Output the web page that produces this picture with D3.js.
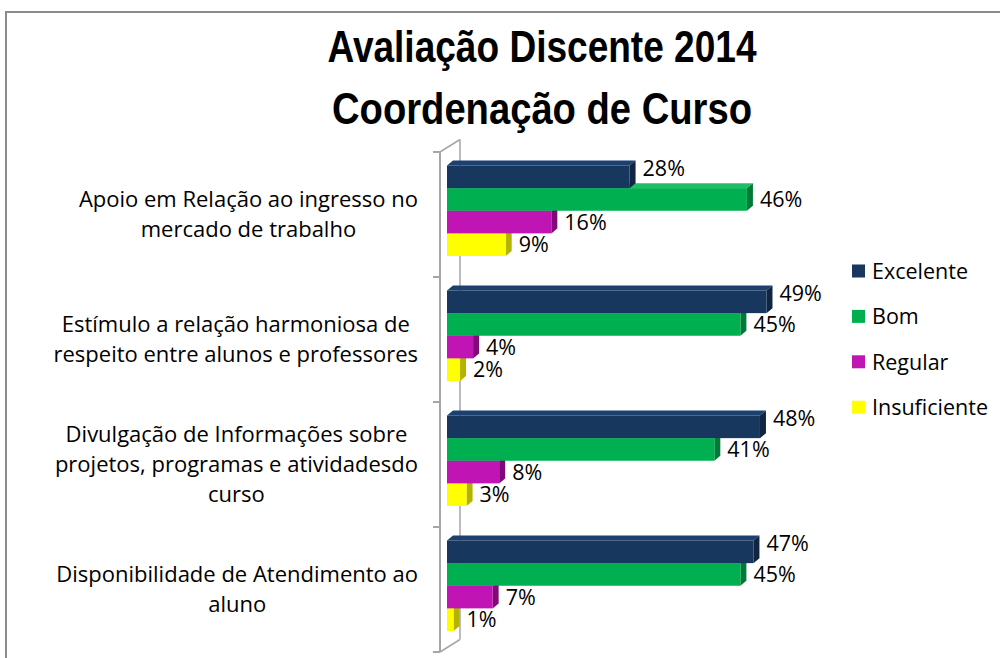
<!DOCTYPE html>
<html>
<head>
<meta charset="utf-8">
<script src="https://cdn.jsdelivr.net/npm/d3@7"></script>
<style>
  html, body { margin: 0; padding: 0; background: #fff; }
  svg { display: block; }
</style>
</head>
<body>
<svg id="chart" width="1000" height="658"></svg>
<script>
// ---- data ----
const titleLines = ["Avaliação Discente 2014", "Coordenação de Curso"];
const categories = [
  "Apoio em Relação ao ingresso no\nmercado de trabalho",
  "Estímulo a relação harmoniosa de\nrespeito entre alunos e professores",
  "Divulgação de Informações sobre\nprojetos, programas e atividadesdo\ncurso",
  "Disponibilidade de Atendimento ao\naluno"
];
const seriesNames = ["Excelente", "Bom", "Regular", "Insuficiente"];
const excelente = [0.28, 0.49, 0.48, 0.47];
const bom = [0.46, 0.45, 0.41, 0.45];
const regular = [0.16, 0.04, 0.08, 0.07];
const insuficiente = [0.09, 0.02, 0.03, 0.01];
const seriesValues = [excelente, bom, regular, insuficiente];

// ---- styles ----
const frontColors = ["#17375E", "#00B050", "#C014B4", "#FFFF00"];
const topColors   = ["#1C4170", "#1FBE66", "#CF3AC4", "#F2F200"];
const sideColors  = ["#0F2542", "#007A37", "#800A78", "#B3B300"];
const axisGray = "#A6A6A6";

const svg = d3.select("#chart");

// outer border
svg.append("path")
  .attr("d", "M6,660 L6,12 L1002,12")
  .attr("fill", "none").attr("stroke", "#8C8C8C").attr("stroke-width", 2);

// title
const titleG = svg.append("g");
const titleWidths = [429, 420];
titleLines.forEach((t, i) => {
  titleG.append("text")
    .attr("x", 542).attr("y", 62 + i * 61.5)
    .attr("text-anchor", "middle")
    .attr("font-family", "'Liberation Sans Narrow', 'Arial Narrow', 'Liberation Sans', Arial, sans-serif")
    .attr("font-weight", "bold")
    .attr("font-size", 45)
    .attr("textLength", titleWidths[i])
    .attr("lengthAdjust", "spacingAndGlyphs")
    .attr("fill", "#000")
    .text(t);
});

// scales
const x = d3.scaleLinear().domain([0, 0.6]).range([447, 447 + 0.6 * 652]);
const y = d3.scaleBand().domain(categories).range([152, 652]).padding(0);
const yInner = d3.scaleBand().domain(seriesNames).range([13.5, 104]).padding(0);

// axis walls (3D)
const dxWall = 20, dyWall = 12.5;
const axisG = svg.append("g");
const yTop = y.range()[0], yBot = y.range()[1];
const xFront = 440;
axisG.append("line")
  .attr("x1", xFront + dxWall).attr("y1", yTop - dyWall)
  .attr("x2", xFront + dxWall).attr("y2", yBot - dyWall)
  .attr("stroke", axisGray).attr("stroke-width", 1.5);
axisG.append("line")
  .attr("x1", xFront).attr("y1", yTop).attr("x2", xFront + dxWall).attr("y2", yTop - dyWall)
  .attr("stroke", axisGray).attr("stroke-width", 1.5);
axisG.append("line")
  .attr("x1", xFront).attr("y1", yBot).attr("x2", xFront + dxWall).attr("y2", yBot - dyWall)
  .attr("stroke", axisGray).attr("stroke-width", 1.5);
axisG.append("line")
  .attr("x1", xFront).attr("y1", yTop).attr("x2", xFront).attr("y2", yBot)
  .attr("stroke", axisGray).attr("stroke-width", 2);
const tickYs = categories.map(c => y(c)).concat([yBot]);
axisG.selectAll("line.tick").data(tickYs).enter().append("line")
  .attr("class", "tick")
  .attr("x1", xFront - 7).attr("x2", xFront).attr("y1", d => d).attr("y2", d => d)
  .attr("stroke", axisGray).attr("stroke-width", 2);

// category labels
const labelFont = "'Open Sans', Lato, 'Noto Sans', sans-serif";
const catG = svg.append("g");
categories.forEach(c => {
  const lines = c.split("\n");
  const cy = y(c) + y.bandwidth() / 2;
  const g = catG.append("g");
  const texts = lines.map((ln, i) => g.append("text")
    .attr("y", cy + (i - (lines.length - 1) / 2) * 30)
    .attr("dy", "0.35em")
    .attr("text-anchor", "middle")
    .attr("font-family", labelFont)
    .attr("font-size", 22)
    .attr("fill", "#000")
    .text(ln));
  const widths = texts.map(t => t.node().getComputedTextLength());
  const w = d3.max(widths);
  const cx = 418 - w / 2;
  texts.forEach(t => t.attr("x", cx));
});

// bars
const dx = 6, dy = 5;
const barsG = svg.append("g");
categories.forEach((c, ci) => {
  for (let si = seriesNames.length - 1; si >= 0; si--) {
    const v = seriesValues[si][ci];
    const x0 = x(0), x1 = x(v);
    const y0 = y(c) + yInner(seriesNames[si]);
    const h = yInner.bandwidth();
    const g = barsG.append("g");
    g.append("polygon")
      .attr("points", [[x0, y0], [x0 + dx, y0 - dy], [x1 + dx, y0 - dy], [x1, y0]].map(p => p.join(",")).join(" "))
      .attr("fill", topColors[si]);
    g.append("polygon")
      .attr("points", [[x1, y0], [x1 + dx, y0 - dy], [x1 + dx, y0 + h - dy], [x1, y0 + h]].map(p => p.join(",")).join(" "))
      .attr("fill", sideColors[si]);
    g.append("rect")
      .attr("x", x0).attr("y", y0).attr("width", x1 - x0).attr("height", h)
      .attr("fill", frontColors[si]);
  }
});

// value labels
const valG = svg.append("g");
const fmt = d3.format(".0%");
categories.forEach((c, ci) => {
  seriesNames.forEach((s, si) => {
    const v = seriesValues[si][ci];
    const cy = y(c) + yInner(s) + yInner.bandwidth() / 2 - (si === 0 ? 8 : 0);
    valG.append("text")
      .attr("x", x(v) + 13)
      .attr("y", cy)
      .attr("dy", "0.35em")
      .attr("font-family", labelFont)
      .attr("font-size", 21.5)
      .attr("fill", "#000")
      .text(fmt(v));
  });
});

// legend
const legG = svg.append("g");
seriesNames.forEach((s, i) => {
  const cy = 271 + i * 45.4;
  legG.append("rect")
    .attr("x", 852).attr("y", cy - 6.5).attr("width", 13).attr("height", 13)
    .attr("fill", frontColors[i]);
  legG.append("text")
    .attr("x", 872).attr("y", cy).attr("dy", "0.36em")
    .attr("font-family", labelFont)
    .attr("font-size", 21.5)
    .attr("fill", "#000")
    .text(s);
});
</script>
</body>
</html>
